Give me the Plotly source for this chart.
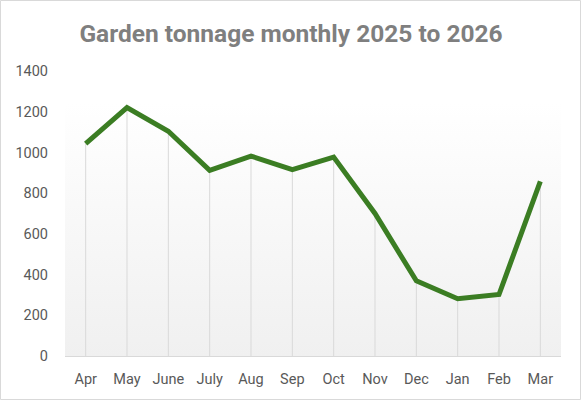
import base64
import plotly.graph_objects as go

# Data
months = ['Apr', 'May', 'June', 'July', 'Aug', 'Sep', 'Oct', 'Nov', 'Dec', 'Jan', 'Feb', 'Mar']
tonnage = [1043, 1220, 1104, 912, 982, 915, 977, 700, 369, 281, 302, 858]
y_ticks = [0, 200, 400, 600, 800, 1000, 1200, 1400]

W, H = 582, 401
ML, MR, MT, MB = 65, 21, 71, 45
PW, PH = W - ML - MR, H - MT - MB

# gradient fill for the plot area (white -> light grey)
svg = ('<svg xmlns="http://www.w3.org/2000/svg" width="100" height="100" preserveAspectRatio="none">'
       '<defs><linearGradient id="g" x1="0" y1="0" x2="0" y2="1">'
       '<stop offset="0" stop-color="#ffffff"/><stop offset="1" stop-color="#f0f0f0"/>'
       '</linearGradient></defs><rect width="100" height="100" fill="url(#g)"/></svg>')
svg_uri = 'data:image/svg+xml;base64,' + base64.b64encode(svg.encode()).decode()

fig = go.Figure()

# drop lines from each point down to the axis
fig.add_trace(go.Scatter(
    x=months, y=tonnage, mode='markers',
    marker=dict(size=0.1, color='rgba(0,0,0,0)'),
    error_y=dict(type='data', symmetric=False, array=[0] * len(tonnage),
                 arrayminus=tonnage, color='#d9d9d9', thickness=1, width=0),
    hoverinfo='skip', showlegend=False,
))

fig.add_trace(go.Scatter(
    x=months, y=tonnage, mode='lines',
    line=dict(color='#3b7d23', width=5),
    showlegend=False,
))

fig.update_layout(
    width=W, height=H,
    margin=dict(l=ML, r=MR, t=MT, b=MB),
    paper_bgcolor='white',
    plot_bgcolor='rgba(0,0,0,0)',
    font=dict(family='Roboto', color='#595959', size=14.5),
    title=dict(text='<b>Garden tonnage monthly 2025 to 2026</b>',
               x=0.5, xref='container', xanchor='center', y=1 - 33 / H, yanchor='middle',
               font=dict(family='Roboto', size=24.5, color='#7f7f7f')),
    xaxis=dict(showgrid=False, showline=True, linecolor='#d9d9d9', linewidth=1,
               ticks='', ticklabelstandoff=10, range=[-0.5, 11.5], fixedrange=True),
    yaxis=dict(range=[0, 1400], tickvals=y_ticks, showgrid=False, zeroline=False,
               showline=False, ticks='', ticklabelstandoff=16, fixedrange=True),
    images=[dict(source=svg_uri, xref='paper', yref='paper', x=0, y=(356 - 103) / PH,
                 sizex=1, sizey=(356 - 103) / PH, sizing='stretch', xanchor='left',
                 yanchor='top', layer='below')],
    shapes=[dict(type='rect', xref='paper', yref='paper',
                 x0=-(ML - 0.5) / PW, x1=1 + (MR - 1.5) / PW,
                 y0=-(MB - 1.5) / PH, y1=1 + (MT - 0.5) / PH,
                 line=dict(color='#d9d9d9', width=1), layer='below')],
)

fig.write_html('out.html', config={'displayModeBar': False},
               post_script="document.body.style.margin='0';")
